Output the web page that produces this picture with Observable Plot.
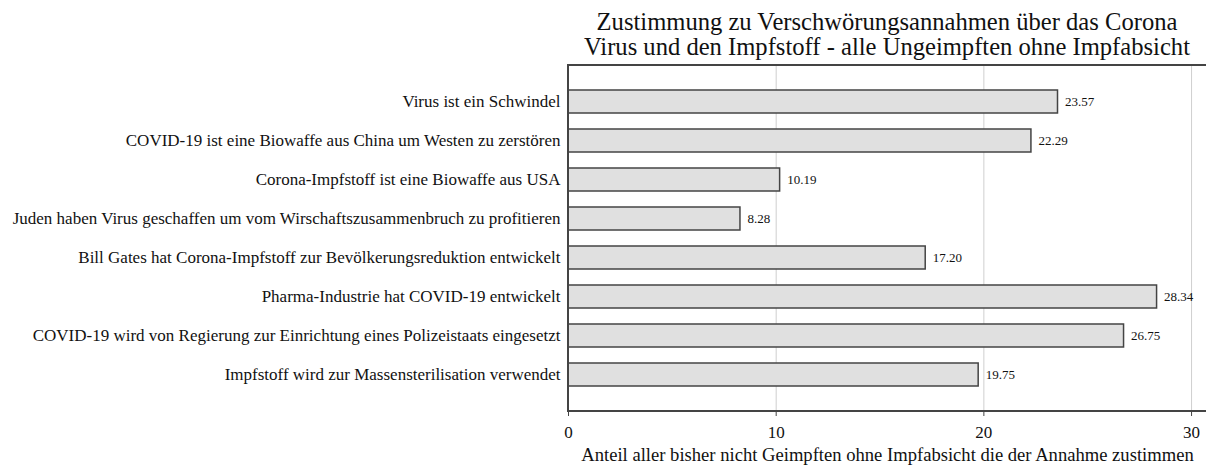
<!DOCTYPE html>
<html>
<head>
<meta charset="utf-8">
<script src="https://cdn.jsdelivr.net/npm/d3@7"></script>
<script src="https://cdn.jsdelivr.net/npm/@observablehq/plot@0.6"></script>
<style>
  html, body { margin: 0; padding: 0; background: white; overflow: hidden; }
  #title {
    margin-left: 568px; width: 638px; height: 60px; box-sizing: border-box;
    padding-top: 9px; text-align: center; white-space: nowrap;
    font-family: "Liberation Serif", "DejaVu Serif", serif; font-size: 24.6px; line-height: 25px; color: #111;
  }
</style>
</head>
<body>
<div id="title">Zustimmung zu Verschwörungsannahmen über das Corona<br>Virus und den Impfstoff - alle Ungeimpften ohne Impfabsicht</div>
<div id="chart"></div>
<script>
const categories = [
  "Virus ist ein Schwindel",
  "COVID-19 ist eine Biowaffe aus China um Westen zu zerstören",
  "Corona-Impfstoff ist eine Biowaffe aus USA",
  "Juden haben Virus geschaffen um vom Wirschaftszusammenbruch zu profitieren",
  "Bill Gates hat Corona-Impfstoff zur Bevölkerungsreduktion entwickelt",
  "Pharma-Industrie hat COVID-19 entwickelt",
  "COVID-19 wird von Regierung zur Einrichtung eines Polizeistaats eingesetzt",
  "Impfstoff wird zur Massensterilisation verwendet"
];
const values = [23.57, 22.29, 10.19, 8.28, 17.20, 28.34, 26.75, 19.75];
const xTicks = [0, 10, 20, 30];
const xLabel = "Anteil aller bisher nicht Geimpften ohne Impfabsicht die der Annahme zustimmen";

const data = categories.map((c, i) => ({category: c, value: values[i]}));

// open frame: left, top and bottom edges only (no right edge)
function openFrame(index, scales, values, dims) {
  const {marginLeft, marginTop, marginBottom, width, height} = dims;
  const g = d3.create("svg:g").attr("fill", "none").attr("stroke", "#444").attr("stroke-width", 2);
  const x0 = marginLeft, x1 = width, y0 = marginTop, y1 = height - marginBottom;
  g.append("path").attr("d", `M${x1},${y0}H${x0}V${y1}H${x1}`);
  return g.node();
}

const chart = Plot.plot({
  width: 1206,
  height: 408,
  marginLeft: 568,
  marginRight: 0,
  marginTop: 5,
  marginBottom: 57,
  style: {fontFamily: "'Liberation Serif', 'DejaVu Serif', serif", fontSize: "14px", color: "#111", background: "white"},
  x: {domain: [0, 30.72], ticks: xTicks, tickFormat: d => String(d), label: null},
  y: {domain: categories, paddingInner: 0.42, paddingOuter: 0.6, label: null},
  marks: [
    Plot.gridX(xTicks.filter(d => d > 0), {stroke: "#cfcfcf", strokeOpacity: 1, strokeWidth: 1}),
    Plot.barX(data, {x: "value", y: "category", fill: "#e0e0e0", stroke: "#444", strokeWidth: 1.5}),
    Plot.text(data, {x: "value", y: "category", text: d => d.value.toFixed(2), textAnchor: "start", dx: 7, fontSize: 13, fill: "#111"}),
    Plot.axisY({tickSize: 0, tickPadding: 8, fontSize: 17, label: null}),
    Plot.axisX({ticks: xTicks, tickSize: 5, tickPadding: 9, fontSize: 17, stroke: "#444", label: null}),
    openFrame,
    Plot.text([xLabel], {frameAnchor: "bottom", dy: 49, fontSize: 18.6, fill: "#111"})
  ]
});
document.getElementById("chart").appendChild(chart);
</script>
</body>
</html>
